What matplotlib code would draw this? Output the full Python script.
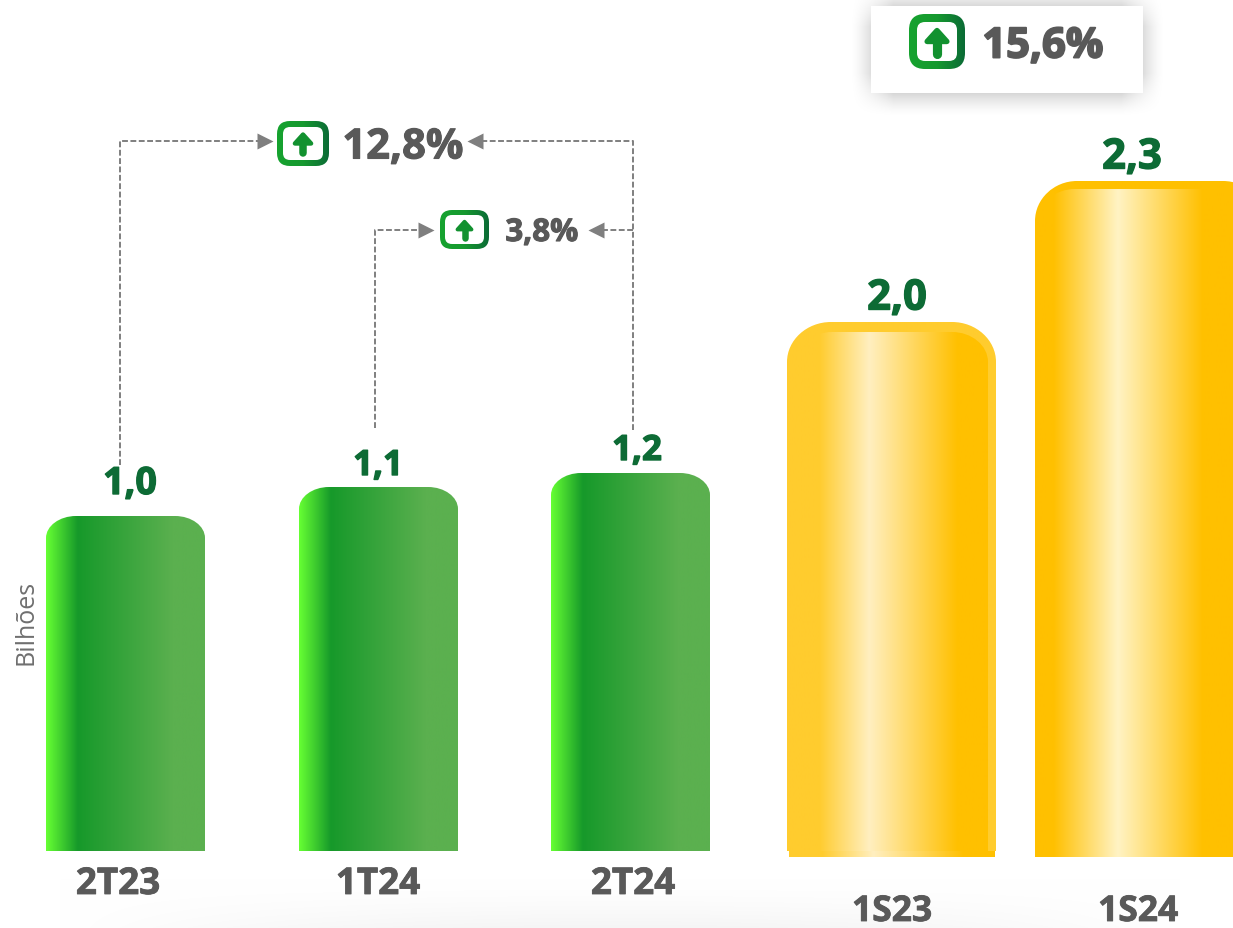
#! /usr/bin/python3

import numpy as np
import matplotlib
matplotlib.use("Agg")
import matplotlib.pyplot as plt
import matplotlib.patheffects as pe
from matplotlib.colors import to_rgb
from matplotlib.patches import PathPatch, FancyBboxPatch, Rectangle, Polygon
from matplotlib.path import Path

W, H = 1233, 929

# data
periods = ["2T23", "1T24", "2T24", "1S23", "1S24"]
value_labels = ["1,0", "1,1", "1,2", "2,0", "2,3"]
bar_heights = [335, 364, 378, 529, 676]   # drawn height, not proportional to the value
pct_labels = ["12,8%", "3,8%", "15,6%"]

bar_left = [46, 299, 551, 787, 1035]
bar_width = [159, 159, 159, 209, 230]
bar_base = [851, 851, 851, 851, 857]

GREEN_STOPS = [(0, "#66ff33"), (0.2, "#16992a"), (0.8, "#5bb04f"), (1, "#5bb04f")]
GOLD1_STOPS = [(0, "#ffcc2e"), (0.16, "#ffcc2e"), (0.41, "#ffefc0"), (0.85, "#ffc000"), (1, "#ffc000")]
GOLD2_STOPS = [(0, "#ffc000"), (0.08, "#ffc000"), (0.36, "#fff3c4"), (0.73, "#ffc000"), (1, "#ffc000")]
ICON_STOPS = [(0, "#16a32f"), (0.5, "#16992f"), (1, "#0b6b36")]

TEXT_GREY = "#595959"
VALUE_GREEN = "#0d6b35"
DASH_GREY = "#7f7f7f"

plt.rcParams["font.family"] = ["Open Sans", "DejaVu Sans"]


def gradient(ax, stops, x0, x1, y0, y1, clip):
    pos = [s[0] for s in stops]
    cols = np.array([to_rgb(s[1]) for s in stops])
    t = np.linspace(0, 1, 256)
    rgb = np.stack([np.interp(t, pos, cols[:, i]) for i in range(3)], axis=-1)[None, :, :]
    im = ax.imshow(rgb, extent=(x0, x1, y1, y0), aspect="auto", zorder=3, interpolation="bilinear")
    ax.add_patch(clip)
    clip.set_visible(False)
    im.set_clip_path(clip)


def top_round(x0, x1, top, base, rx, ry):
    k = 0.55
    verts = [(x0, base), (x0, top + ry),
             (x0, top + ry*(1-k)), (x0 + rx*(1-k), top), (x0 + rx, top),
             (x1 - rx, top),
             (x1 - rx*(1-k), top), (x1, top + ry*(1-k)), (x1, top + ry),
             (x1, base), (x0, base)]
    codes = [Path.MOVETO, Path.LINETO, Path.CURVE4, Path.CURVE4, Path.CURVE4, Path.LINETO,
             Path.CURVE4, Path.CURVE4, Path.CURVE4, Path.LINETO, Path.CLOSEPOLY]
    return PathPatch(Path(verts, codes), transform=ax.transData)


def icon(ax, x0, x1, y0, y1, rad, lw):
    outer = FancyBboxPatch((x0 + rad, y0 + rad), x1 - x0 - 2*rad, y1 - y0 - 2*rad,
                           boxstyle="round,pad=%g,rounding_size=%g" % (rad, rad), transform=ax.transData)
    gradient(ax, ICON_STOPS, x0, x1, y0, y1, outer)
    r2 = max(rad - lw, 2)
    inner = FancyBboxPatch((x0 + lw + r2, y0 + lw + r2), x1 - x0 - 2*lw - 2*r2, y1 - y0 - 2*lw - 2*r2,
                           boxstyle="round,pad=%g,rounding_size=%g" % (r2, r2), fc="white", ec="none", zorder=4)
    ax.add_patch(inner)
    cx, cy = (x0 + x1)/2, (y0 + y1)/2
    s = (y1 - y0)/50.0
    ax.plot([cx, cx], [cy - 2*s, cy + 11*s], color="#12912f", lw=6*s, solid_capstyle="round", zorder=5)
    ax.add_patch(Polygon([(cx, cy - 10*s), (cx + 9*s, cy + 0*s), (cx - 9*s, cy + 0*s)], closed=True,
                         fc="#12912f", ec="#12912f", lw=3.5*s, joinstyle="round", zorder=5))


def dashed(ax, xs, ys):
    ax.plot(xs, ys, color=DASH_GREY, lw=1.4, dashes=(3.0, 1.3), zorder=2)


def bold_text(ax, x, y, s, color, size, stroke=0.7):
    ax.text(x, y, s, color=color, fontsize=size, fontweight="bold", ha="center", va="center", zorder=6,
            path_effects=[pe.withStroke(linewidth=stroke, foreground=color)])


fig = plt.figure(figsize=(W/100, H/100), dpi=100)
ax = fig.add_axes([0, 0, 1, 1])

# grey glow fading in along the bottom edge, strongest around the middle
gy, gx = np.mgrid[0:50, 0:W]
glow = (gy/49.0)**1.5*np.clip(1 - ((gx - 620)/560.0)**2, 0, 1)
band = 1 - 0.04*glow
ax.imshow(np.stack([band]*3, axis=-1), extent=(0, W, H, 879), aspect="auto", zorder=0, vmin=0, vmax=1)

# soft shadow behind the 15,6% box
yy, xx = np.mgrid[0:130, 0:340]
bx0, bx1, by0, by1 = 31, 303, 6, 93
ramp = lambda d: np.clip((d + 22)/44.0, 0, 1)**1.6
alpha = 0.42*ramp(xx - bx0)*ramp(bx1 - xx)*ramp(yy - by0 + 2)*ramp(by1 + 2 - yy)
shadow = np.zeros((130, 340, 4))
shadow[..., 3] = alpha
ax.imshow(shadow, extent=(840, 1180, 130, 0), aspect="auto", zorder=1, interpolation="bilinear")
ax.add_patch(Rectangle((871, 6), 272, 87, fc="white", ec="none", zorder=1.5))

# bars
for i in range(5):
    x0, x1 = bar_left[i], bar_left[i] + bar_width[i]
    base = bar_base[i]
    top = base - bar_heights[i]
    if i < 3:
        gradient(ax, GREEN_STOPS, x0, x1, top, base, top_round(x0, x1, top, base, 30, 22))
    elif i == 3:
        gradient(ax, [(0, "#ffcc2e"), (1, "#ffcc2e")], x0, x1, top, base, top_round(x0, x1, top, base, 44, 40))
        gradient(ax, GOLD1_STOPS, x0, x1 - 8, top + 10, base, top_round(x0 + 9, x1 - 8, top + 10, base, 36, 30))
        # thin strip under the bar
        gradient(ax, GOLD1_STOPS, x0 + 2, x1 - 1, base, base + 6,
                 Rectangle((x0 + 2, base), bar_width[i] - 3, 6, transform=ax.transData))
    else:
        gradient(ax, [(0, "#ffc000"), (1, "#ffc000")], x0, x1, top, base, top_round(x0, x1, top, base, 42, 40))
        gradient(ax, GOLD2_STOPS, x0, x1, top + 8, base, top_round(x0 + 4, x1, top + 8, base, 36, 30))

value_x = [130, 378, 637, 897, 1132]
value_y = [484, 466, 451, 299, 158]
value_size = [27, 25, 25, 30, 30]
for i in range(5):
    bold_text(ax, value_x[i], value_y[i], value_labels[i], VALUE_GREEN, value_size[i], 1.0)

period_x = [118, 378, 633, 892, 1138]
period_y = [884, 884, 884, 912, 912]
period_size = [26.5, 26.5, 26.5, 25.5, 25.5]
for i in range(5):
    bold_text(ax, period_x[i], period_y[i], periods[i], TEXT_GREY, period_size[i], 0.6)

ax.text(26, 621, "Bilhões", color="#6f6f6f", fontsize=18, rotation=90, ha="center", va="center", zorder=6)

# connectors
dashed(ax, [120, 120, 262], [465, 141, 141])
dashed(ax, [633, 633, 478], [430, 141, 141])
dashed(ax, [375, 375, 422], [428, 230, 230])
dashed(ax, [633, 600], [230, 230])
ax.plot([265], [141], marker=">", ms=12, color=DASH_GREY, zorder=3, mec="none")
ax.plot([475], [141], marker="<", ms=12, color=DASH_GREY, zorder=3, mec="none")
ax.plot([426], [230], marker=">", ms=12, color=DASH_GREY, zorder=3, mec="none")
ax.plot([596], [230], marker="<", ms=12, color=DASH_GREY, zorder=3, mec="none")

# change badges
icon(ax, 277, 329, 121, 166, 13, 6)
bold_text(ax, 403, 148, pct_labels[0], TEXT_GREY, 30, 0.8)
icon(ax, 440, 489, 210, 249, 12, 5)
bold_text(ax, 542, 233, pct_labels[1], TEXT_GREY, 22.5, 0.8)
icon(ax, 909, 965, 14, 69, 16, 8)
bold_text(ax, 1043, 47, pct_labels[2], TEXT_GREY, 30, 1.4)

ax.set_xlim(0, W)
ax.set_ylim(H - 1, -1)
ax.axis("off")
fig.savefig("out.png", dpi=100, facecolor="white")
